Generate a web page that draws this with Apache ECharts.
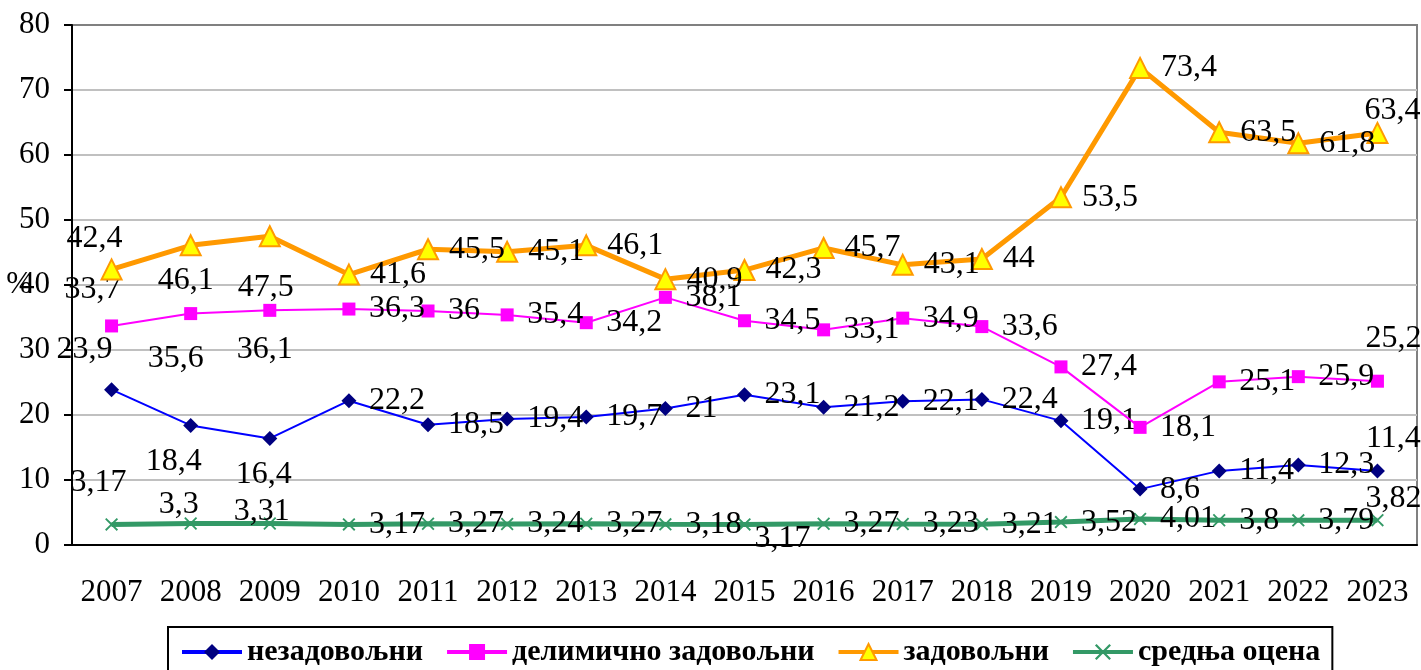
<!DOCTYPE html>
<html>
<head>
<meta charset="utf-8">
<script src="https://cdn.jsdelivr.net/npm/echarts@6/dist/echarts.min.js"></script>
<style>
  html, body { margin: 0; padding: 0; background: #fff; }
  #chart { width: 1421px; height: 670px; }
</style>
</head>
<body>
<div id="chart"></div>
<script>
const years = ["2007", "2008", "2009", "2010", "2011", "2012", "2013", "2014", "2015",
  "2016", "2017", "2018", "2019", "2020", "2021", "2022", "2023"];
const nezadovoljni = [23.9, 18.4, 16.4, 22.2, 18.5, 19.4, 19.7, 21, 23.1, 21.2, 22.1, 22.4, 19.1, 8.6, 11.4, 12.3, 11.4];
const delimicno = [33.7, 35.6, 36.1, 36.3, 36, 35.4, 34.2, 38.1, 34.5, 33.1, 34.9, 33.6, 27.4, 18.1, 25.1, 25.9, 25.2];
const zadovoljni = [42.4, 46.1, 47.5, 41.6, 45.5, 45.1, 46.1, 40.9, 42.3, 45.7, 43.1, 44, 53.5, 73.4, 63.5, 61.8, 63.4];
const srednjaOcena = [3.17, 3.3, 3.31, 3.17, 3.27, 3.24, 3.27, 3.18, 3.17, 3.27, 3.23, 3.21, 3.52, 4.01, 3.8, 3.79, 3.82];
const seriesNames = ["незадовољни", "делимично задовољни", "задовољни", "средња оцена"];

// label offsets (centre of label relative to point) for points not labelled on the right
const specialOffsets = [
  { 0: [-27, -40], 1: [-17, 36], 2: [-6, 36], 16: [16, -32] },
  { 0: [-19, -36], 1: [-15, 45], 2: [-5, 39], 16: [16, -43] },
  { 0: [-17, -31], 1: [-5, 35], 2: [-4, 51], 16: [15, -22] },
  { 0: [-13, -42], 1: [-12, -19], 2: [-8, -12], 16: [16, -22] }
];
// right-side labels that sit a bit off the line
const rightShift = { 3: { 8: [-10, 14] } };

const fmt = v => String(v).replace(".", ",");
const font = "Liberation Serif";

function buildData(values, si, size) {
  return values.map((v, i) => {
    const off = specialOffsets[si][i];
    let label;
    if (off) {
      label = { position: "inside", offset: off };
    } else {
      label = { position: "right", distance: 20 - size / 2 };
      if (rightShift[si] && rightShift[si][i]) label.offset = rightShift[si][i];
    }
    return { value: v, label: label };
  });
}

const xPath = "path://M1,0 L5,4 L9,0 L10,1 L6,5 L10,9 L9,10 L5,6 L1,10 L0,9 L4,5 L0,1 Z";
const styles = [
  { line: "#0000FF", width: 2, symbol: "diamond", size: 15, fill: "#000080", border: "#000080", bw: 0 },
  { line: "#FF00FF", width: 2, symbol: "rect", size: 13, fill: "#FF00FF", border: "#FF00FF", bw: 0 },
  { line: "#FF9900", width: 5, symbol: "triangle", size: 20, fill: "#FFFF00", border: "#FF9900", bw: 2 },
  { line: "#339966", width: 5, symbol: xPath, size: 13, fill: "#339966", border: "#339966", bw: 0 }
];
const allValues = [nezadovoljni, delimicno, zadovoljni, srednjaOcena];

const chart = echarts.init(document.getElementById("chart"));
chart.setOption({
  animation: false,
  grid: {
    left: 72,
    right: 4,
    top: 25,
    bottom: 125,
    containLabel: false,
    outerBoundsMode: "none",
    show: true,
    borderColor: "#808080",
    borderWidth: 2
  },
  legend: {
    left: 168,
    top: 627,
    padding: [10, 12, 20, 12],
    borderColor: "#000",
    borderWidth: 2,
    itemWidth: 60,
    itemHeight: 20,
    itemGap: 22,
    lineStyle: { width: 4 },
    textStyle: { fontFamily: font, fontWeight: "bold", fontSize: 30, color: "#000" },
    data: seriesNames
  },
  xAxis: {
    type: "category",
    data: years,
    axisLine: { lineStyle: { color: "#000", width: 2 } },
    axisTick: { length: 8, lineStyle: { color: "#000", width: 2 } },
    axisLabel: { interval: 0, fontFamily: font, fontSize: 31, color: "#000", margin: 32 },
    splitLine: { show: false }
  },
  yAxis: {
    type: "value",
    min: 0,
    max: 80,
    interval: 10,
    name: "%",
    nameLocation: "middle",
    nameRotate: 0,
    nameGap: 40,
    nameMoveOverlap: false,
    nameTextStyle: { fontFamily: font, fontSize: 31, color: "#000" },
    axisLine: { show: true, lineStyle: { color: "#000", width: 2 } },
    axisTick: { show: true, length: 8, lineStyle: { color: "#000", width: 2 } },
    axisLabel: { fontFamily: font, fontSize: 31, color: "#000", margin: 22 },
    splitLine: {
      lineStyle: {
        color: ["#C0C0C0", "#C0C0C0", "#C0C0C0", "#C0C0C0", "#C0C0C0", "#C0C0C0", "#C0C0C0", "#C0C0C0", "#808080"],
        width: 2
      }
    }
  },
  series: seriesNames.map((name, si) => {
    const s = styles[si];
    return {
      name: name,
      type: "line",
      data: buildData(allValues[si], si, s.size),
      symbol: s.symbol,
      symbolSize: s.size,
      z: 2 + si,
      lineStyle: { color: s.line, width: s.width },
      itemStyle: { color: s.fill, borderColor: s.border, borderWidth: s.bw },
      label: {
        show: true,
        fontFamily: font,
        fontSize: 32,
        color: "#000",
        formatter: p => fmt(p.value)
      },
      emphasis: { disabled: true }
    };
  })
});
</script>
</body>
</html>
